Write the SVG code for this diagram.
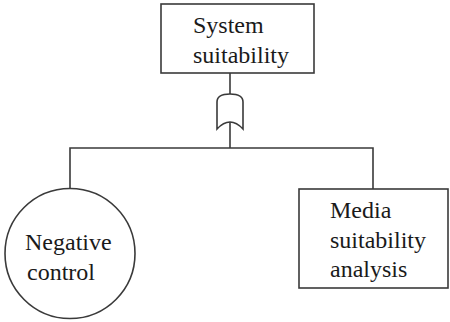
<svg xmlns="http://www.w3.org/2000/svg" width="450" height="322" viewBox="0 0 450 322">
  <style>
    .shape { fill: #ffffff; stroke: #3a3a3a; stroke-width: 1.6; }
    .wire { fill: none; stroke: #3a3a3a; stroke-width: 1.6; }
    .label { font-family: "Liberation Serif", "Times New Roman", serif; font-size: 24px; fill: #1a1a1a; }
  </style>
  <rect width="450" height="322" fill="#ffffff"/>

  <!-- connectors: top event -> gate -> branches -->
  <g id="connectors">
    <path class="wire" d="M230,73 V94"/>
    <path class="wire" d="M230,122 V148"/>
    <path class="wire" d="M70,189 V148 H373 V189"/>
  </g>

  <!-- OR gate -->
  <g id="gate">
    <path class="shape" d="M217,129 V102 C217,96 222,94 230,94 C238,94 243,96 243,102 V129 Q230,115 217,129 Z"/>
  </g>

  <g id="system-suitability">
    <rect class="shape" x="161" y="4" width="153" height="69"/>
    <text class="label" x="193" y="33">System</text>
    <text class="label" x="193" y="63">suitability</text>
  </g>

  <g id="negative-control">
    <circle class="shape" cx="70" cy="253.5" r="65"/>
    <text class="label" x="25" y="250">Negative</text>
    <text class="label" x="27" y="280">control</text>
  </g>

  <g id="media-suitability-analysis">
    <rect class="shape" x="299" y="189" width="149" height="99"/>
    <text class="label" x="330" y="218">Media</text>
    <text class="label" x="330" y="248">suitability</text>
    <text class="label" x="330" y="277">analysis</text>
  </g>
</svg>
